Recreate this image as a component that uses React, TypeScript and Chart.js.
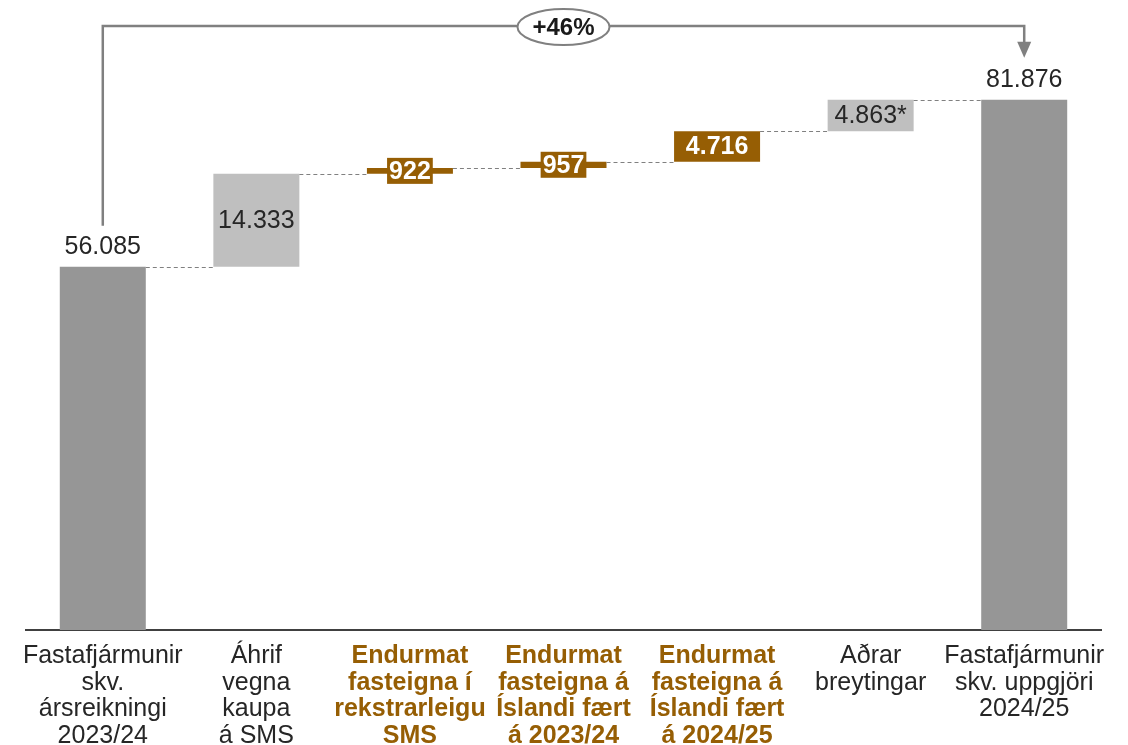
import React, { useEffect, useRef } from 'react';
import { Chart, registerables } from 'chart.js';

Chart.register(...registerables);

const categories: string[][] = [
  ['Fastafjármunir', 'skv.', 'ársreikningi', '2023/24'],
  ['Áhrif', 'vegna', 'kaupa', 'á SMS'],
  ['Endurmat', 'fasteigna í', 'rekstrarleigu', 'SMS'],
  ['Endurmat', 'fasteigna á', 'Íslandi fært', 'á 2023/24'],
  ['Endurmat', 'fasteigna á', 'Íslandi fært', 'á 2024/25'],
  ['Aðrar', 'breytingar'],
  ['Fastafjármunir', 'skv. uppgjöri', '2024/25'],
];
const values: number[] = [56085, 14333, 922, 957, 4716, 4863, 81876];
const isTotal: boolean[] = [true, false, false, false, false, false, true];
const highlighted: boolean[] = [false, false, true, true, true, false, false];
const labelSuffix: string[] = ['', '', '', '', '', '*', ''];
const growthLabel = '+46%';

const FONT = '"Liberation Sans", Arial, sans-serif';
const DARK_GRAY = '#969696';
const LIGHT_GRAY = '#bfbfbf';
const BROWN = '#965e04';
const TEXT = '#262626';
const LINE = '#808080';

function fmt(v: number): string {
  return String(v).replace(/\B(?=(\d{3})+(?!\d))/g, '.');
}

let run = 0;
const ranges: number[][] = values.map((v, i) => {
  if (isTotal[i]) {
    run = v;
    return [0, v];
  }
  const r = [run, run + v];
  run += v;
  return r;
});

const colors = values.map((_, i) => (isTotal[i] ? DARK_GRAY : highlighted[i] ? BROWN : LIGHT_GRAY));

const overlayPlugin = {
  id: 'waterfallOverlay',
  afterDatasetsDraw(chart: any) {
    const ctx: CanvasRenderingContext2D = chart.ctx;
    const meta = chart.getDatasetMeta(0);
    const yScale = chart.scales.y;
    ctx.save();

    // connectors
    ctx.strokeStyle = LINE;
    ctx.lineWidth = 1;
    ctx.setLineDash([4, 3]);
    for (let i = 0; i < values.length - 1; i++) {
      const a = meta.data[i];
      const b = meta.data[i + 1];
      const yy = Math.round(yScale.getPixelForValue(ranges[i][1])) + 0.5;
      ctx.beginPath();
      ctx.moveTo(a.x + a.width / 2, yy);
      ctx.lineTo(b.x - b.width / 2, yy);
      ctx.stroke();
    }
    ctx.setLineDash([]);

    // labels
    ctx.textAlign = 'center';
    ctx.textBaseline = 'middle';
    for (let i = 0; i < values.length; i++) {
      const bar = meta.data[i];
      const top = Math.min(bar.y, bar.base);
      const bottom = Math.max(bar.y, bar.base);
      const text = fmt(values[i]) + labelSuffix[i];
      if (isTotal[i]) {
        ctx.font = `25px ${FONT}`;
        ctx.fillStyle = TEXT;
        ctx.fillText(text, bar.x, top - 20);
      } else if (highlighted[i]) {
        ctx.font = `bold 25px ${FONT}`;
        const cy = (top + bottom) / 2;
        if (bottom - top < 28) {
          const w = ctx.measureText(text).width + 4;
          ctx.fillStyle = BROWN;
          ctx.fillRect(bar.x - w / 2, cy - 13, w, 26);
        }
        ctx.fillStyle = '#ffffff';
        ctx.fillText(text, bar.x, cy + 1);
      } else {
        ctx.font = `25px ${FONT}`;
        ctx.fillStyle = TEXT;
        ctx.fillText(text, bar.x, (top + bottom) / 2 + 1);
      }
    }

    // growth bracket
    const first = meta.data[0];
    const last = meta.data[values.length - 1];
    const x0 = first.x;
    const x1 = last.x;
    const yLine = 26;
    const yStart = first.y - 41;
    const tip = last.y - 42;
    ctx.strokeStyle = LINE;
    ctx.lineWidth = 2.5;
    ctx.beginPath();
    ctx.moveTo(x0, yStart);
    ctx.lineTo(x0, yLine);
    ctx.lineTo(x1, yLine);
    ctx.lineTo(x1, tip - 14);
    ctx.stroke();
    ctx.fillStyle = LINE;
    ctx.beginPath();
    ctx.moveTo(x1 - 7, tip - 16);
    ctx.lineTo(x1 + 7, tip - 16);
    ctx.lineTo(x1, tip);
    ctx.closePath();
    ctx.fill();

    const cx = (x0 + x1) / 2;
    ctx.beginPath();
    ctx.ellipse(cx, yLine + 1, 46, 18, 0, 0, Math.PI * 2);
    ctx.fillStyle = '#ffffff';
    ctx.fill();
    ctx.lineWidth = 2;
    ctx.strokeStyle = LINE;
    ctx.stroke();
    ctx.font = `bold 24px ${FONT}`;
    ctx.fillStyle = '#1a1a1a';
    ctx.fillText(growthLabel, cx, yLine + 2);

    ctx.restore();
  },
};

export default function App() {
  const canvasRef = useRef<HTMLCanvasElement | null>(null);

  useEffect(() => {
    if (!canvasRef.current) return;
    const chart = new Chart(canvasRef.current, {
      type: 'bar',
      data: {
        labels: categories as any,
        datasets: [
          {
            data: ranges as any,
            backgroundColor: colors,
            borderWidth: 0,
            barPercentage: 0.56,
            categoryPercentage: 1.0,
          },
        ],
      },
      options: {
        responsive: false,
        animation: false,
        layout: { padding: { left: 26, right: 27, top: 47, bottom: 0 } },
        plugins: {
          legend: { display: false },
          tooltip: { enabled: false },
          title: { display: false },
        },
        scales: {
          x: {
            grid: { display: false, drawTicks: false },
            border: { display: true, color: '#404040', width: 2 },
            afterFit: (scale: any) => {
              scale.height = 115;
            },
            ticks: {
              padding: 13,
              autoSkip: false,
              maxRotation: 0,
              minRotation: 0,
              color: (c: any) => (highlighted[c.index] ? BROWN : TEXT),
              font: (c: any) => ({
                family: FONT,
                size: 25,
                weight: highlighted[c.index] ? 'bold' : 'normal',
                lineHeight: 26.5 / 25,
              }),
            },
          },
          y: {
            display: false,
            min: 0,
            max: 90000,
          },
        },
      },
      plugins: [overlayPlugin],
    });
    return () => chart.destroy();
  }, []);

  return (
    <div style={{ position: 'absolute', left: 0, top: 0, width: 1128, height: 745, background: '#ffffff' }}>
      <canvas ref={canvasRef} width={1128} height={745} style={{ display: 'block' }} />
    </div>
  );
}
